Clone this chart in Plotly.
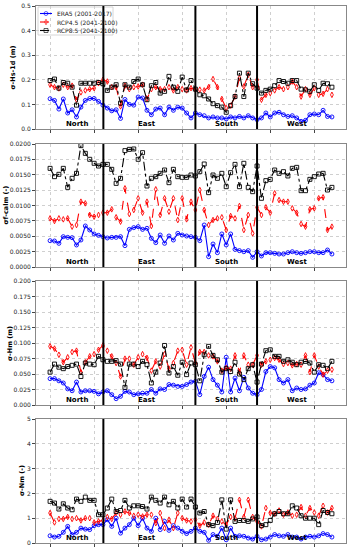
import plotly.graph_objects as go
from plotly.subplots import make_subplots

x_idx = list(range(65))

hs_era5 = [0.123,0.116,0.081,0.122,0.065,0.078,0.049,0.089,0.116,0.124,0.124,0.112,0.097,0.085,0.074,0.078,0.043,0.120,0.100,0.097,0.130,0.126,0.076,0.058,0.081,0.085,0.058,0.089,0.076,0.089,
           0.085,0.065,0.045,0.065,0.058,0.054,0.045,0.049,0.045,0.045,0.041,0.049,0.045,0.051,0.045,0.054,0.045,0.038,0.045,0.065,0.049,0.065,0.068,0.058,0.051,0.054,0.045,0.031,0.035,0.058,0.061,0.058,0.076,0.051,0.049]
hs_rcp45 = [0.180,0.170,0.165,0.180,0.170,0.176,0.119,0.149,0.157,0.162,0.166,0.186,0.200,0.193,0.170,0.170,0.092,0.176,0.162,0.170,0.173,0.180,0.122,0.162,0.170,0.162,0.162,0.170,0.157,0.170,
            0.162,0.157,0.166,0.160,0.160,0.157,0.170,0.203,0.170,0.122,0.085,0.095,0.132,0.207,0.173,0.220,0.170,0.200,0.119,0.139,0.146,0.157,0.170,0.162,0.170,0.193,0.170,0.132,0.162,0.139,0.166,0.139,0.143,0.162,0.139]
hs_rcp85 = [0.197,0.203,0.166,0.189,0.186,0.170,0.097,0.186,0.186,0.186,0.186,0.189,0.184,0.157,0.170,0.180,0.105,0.180,0.170,0.193,0.203,0.180,0.119,0.176,0.189,0.146,0.153,0.214,0.170,
            0.153,0.211,0.159,0.197,0.162,0.139,0.135,0.122,0.103,0.095,0.089,0.068,0.095,0.132,0.227,0.132,0.227,0.184,0.166,0.146,0.157,0.162,0.176,0.197,0.193,0.186,0.197,0.197,0.162,0.159,0.153,0.180,0.157,0.186,0.184,0.170]

fc_era5 = [0.00428,0.00423,0.00385,0.00493,0.00482,0.00477,0.00358,0.00439,0.00667,0.00602,0.00537,0.00515,0.00493,0.00472,0.00482,0.00482,0.00493,0.00347,0.00612,0.0064,0.00656,0.00612,0.00629,0.00466,0.00396,0.0052,0.00385,0.00504,0.00439,0.00547,
           0.0052,0.00504,0.00493,0.00482,0.00428,0.00683,0.00168,0.00374,0.00233,0.00537,0.00358,0.00537,0.00287,0.00266,0.00249,0.00266,0.00157,0.00249,0.00179,0.00233,0.00233,0.00222,0.00211,0.00211,0.00233,0.00249,0.00233,0.00222,0.00233,0.00249,0.00249,0.00233,0.00233,0.00276,0.00211]
fc_rcp45 = [0.00791,0.00748,0.00791,0.00775,0.00791,0.00656,0.00683,0.01062,0.01035,0.00846,0.00818,0.00846,0.00883,0.00883,0.00938,0.00808,0.00737,0.01279,0.00862,0.00927,0.01117,0.00883,0.01062,0.00667,0.01263,0.00846,0.01117,0.009,0.01117,0.00764,
            0.01117,0.00775,0.01062,0.00927,0.01252,0.00927,0.00683,0.00764,0.00791,0.00808,0.00602,0.00829,0.00791,0.00992,0.00602,0.00846,0.00547,0.0097,0.00846,0.0097,0.00883,0.01198,0.01089,0.01062,0.01062,0.00954,0.00883,0.00699,0.00656,0.00938,0.00954,0.01117,0.01133,0.00602,0.00656]
fc_rcp85 = [0.01604,0.01469,0.01507,0.01604,0.01295,0.01442,0.01523,0.01973,0.01848,0.01751,0.01686,0.01642,0.01669,0.01669,0.01588,0.0136,0.01442,0.01892,0.01913,0.01919,0.01751,0.01859,0.01317,0.01442,0.01469,0.01523,0.01577,0.01371,0.01588,0.01469,
            0.01458,0.01458,0.01496,0.0148,0.0155,0.01675,0.01209,0.01496,0.01442,0.01523,0.01306,0.01534,0.01669,0.01306,0.01686,0.01295,0.01225,0.01642,0.01117,0.01404,0.01425,0.01577,0.01523,0.0155,0.0148,0.01604,0.0162,0.01241,0.01241,0.01425,0.01469,0.01512,0.01523,0.01252,0.01295]

hm_era5 = [0.0425,0.0425,0.039,0.0355,0.026,0.023,0.037,0.021,0.023,0.023,0.022,0.018,0.021,0.023,0.0167,0.0102,0.014,0.022,0.021,0.0167,0.018,0.019,0.019,0.025,0.019,0.026,0.025,0.033,0.032,0.030,
           0.030,0.033,0.037,0.038,0.0167,0.046,0.061,0.041,0.032,0.021,0.077,0.021,0.0435,0.023,0.0446,0.0274,0.019,0.0167,0.025,0.054,0.062,0.060,0.041,0.0355,0.041,0.023,0.0274,0.025,0.026,0.032,0.0355,0.052,0.049,0.041,0.039]
hm_rcp45 = [0.0946,0.091,0.081,0.069,0.077,0.0855,0.0876,0.053,0.069,0.0785,0.082,0.089,0.096,0.0876,0.0785,0.0677,0.046,0.0747,0.0747,0.065,0.077,0.082,0.076,0.0554,0.0704,0.062,0.082,0.0586,0.0677,0.0876,
            0.089,0.065,0.093,0.0677,0.0855,0.0855,0.080,0.0785,0.0704,0.0554,0.0597,0.0586,0.080,0.053,0.080,0.065,0.065,0.080,0.065,0.0704,0.073,0.0758,0.073,0.066,0.0677,0.064,0.066,0.065,0.080,0.053,0.080,0.062,0.049,0.0554,0.057]
hm_rcp85 = [0.053,0.066,0.061,0.0586,0.062,0.064,0.066,0.046,0.0677,0.066,0.065,0.0785,0.073,0.0704,0.0704,0.0715,0.066,0.0285,0.066,0.066,0.062,0.0704,0.065,0.0355,0.053,0.0677,0.096,0.0516,0.062,0.048,
            0.069,0.049,0.0677,0.065,0.039,0.081,0.0946,0.080,0.073,0.053,0.0586,0.054,0.069,0.050,0.041,0.0586,0.065,0.037,0.066,0.0876,0.089,0.0785,0.0785,0.0704,0.073,0.069,0.065,0.069,0.0704,0.0677,0.053,0.065,0.064,0.0586,0.0704]

nm_era5 = [0.29,0.24,0.27,0.43,0.67,0.34,0.43,0.6,0.56,0.54,0.7,0.74,0.74,0.94,0.67,1.0,0.4,0.6,0.74,1.0,0.7,1.0,0.6,0.47,1.0,0.54,0.87,0.51,0.7,0.6,
           0.47,0.38,0.47,0.6,0.47,0.43,0.11,0.34,0.27,0.6,0.13,0.6,0.27,0.29,0.27,0.2,0.16,0.27,0.13,0.16,0.24,0.34,0.29,0.27,0.34,0.24,0.24,0.16,0.24,0.27,0.24,0.29,0.38,0.34,0.24]
nm_rcp45 = [1.21,0.83,0.97,0.97,1.05,0.97,1.0,0.91,1.0,1.0,0.83,0.87,0.91,1.05,0.97,1.21,1.14,1.27,1.21,1.1,1.14,1.07,1.14,1.14,0.8,1.21,0.6,0.94,0.6,1.21,
            1.0,0.91,0.87,0.94,0.7,0.83,0.74,1.1,0.97,0.87,0.74,1.05,1.0,1.74,1.05,1.74,1.05,0.87,0.67,1.41,1.21,1.18,1.31,1.14,1.23,1.1,1.14,1.45,1.1,1.41,1.23,1.1,1.5,1.23,1.41]
nm_rcp85 = [1.68,1.61,1.37,1.58,1.41,1.34,1.77,1.68,1.85,1.72,1.72,1.14,1.14,1.41,1.77,1.27,1.31,1.72,1.41,1.5,1.5,1.47,1.37,1.85,1.72,1.61,1.85,1.54,1.68,1.41,
            1.77,1.45,1.77,1.45,1.21,1.27,0.74,0.7,0.83,1.74,0.56,1.74,0.87,0.91,0.91,0.87,0.97,1.05,0.7,0.74,0.91,1.18,1.27,1.18,1.18,1.5,1.41,1.1,1.0,1.0,1.0,0.74,1.31,1.23,1.18]

series_names = ["ERA5 (2001-2017)", "RCP4.5 (2041-2100)", "RCP8.5 (2041-2100)"]
panel_titles = ["σ-Hs-1d (m)", "σf-calm (-)", "σ-Hm (m)", "σ-Nm (-)"]
region_names = ["North", "East", "South", "West"]
region_pos = [6, 22, 40, 56]
boundaries = [12.1, 33.0, 47.0]

panels = [
    (hs_era5, hs_rcp45, hs_rcp85),
    (fc_era5, fc_rcp45, fc_rcp85),
    (hm_era5, hm_rcp45, hm_rcp85),
    (nm_era5, nm_rcp45, nm_rcp85),
]
y_ranges = [(0, 0.5), (0, 0.02), (0, 0.2), (0, 5)]
y_dticks = [0.1, 0.0025, 0.025, 1]
y_formats = [".1f", ".4f", ".3f", "d"]
title_xpx = [12, 6, 10, 22]

styles = [
    dict(color="#0000ff", dash="solid", symbol="circle-open"),
    dict(color="#ff0000", dash="dash", symbol="diamond-tall-open"),
    dict(color="#000000", dash="dashdot", symbol="square-open"),
]

W, H = 351, 550
ml, mr, mt, mb = 36, 5, 6, 7
pw = W - ml - mr
ph = H - mt - mb
panel_px = [(6, 129), (144, 267), (281, 405), (419, 543)]

fig = make_subplots(rows=4, cols=1)

for r, data in enumerate(panels):
    for s, vals in enumerate(data):
        st = styles[s]
        fig.add_trace(go.Scatter(
            x=x_idx, y=vals, mode="lines+markers",
            name=series_names[s], showlegend=False,
            line=dict(color=st["color"], dash=st["dash"], width=1.1),
            marker=dict(symbol=st["symbol"], size=4, color=st["color"],
                        line=dict(width=0.9, color=st["color"])),
        ), row=r + 1, col=1)

annotations = []
shapes = []
for r in range(4):
    top, bot = panel_px[r]
    d0 = (H - mb - bot) / ph
    d1 = (H - mb - top) / ph
    ax = "" if r == 0 else str(r + 1)
    fig.layout["yaxis" + ax].update(
        domain=[d0, d1], range=list(y_ranges[r]), dtick=y_dticks[r], tick0=0,
        tickformat=y_formats[r], showgrid=True, gridcolor="#cfcfcf", griddash="dot",
        gridwidth=0.8, zeroline=False, showline=True, linecolor="#888888", linewidth=1,
        mirror=True, ticks="outside", ticklen=3, tickcolor="#444", tickwidth=0.8,
        tickfont=dict(size=6, color="#222", family="DejaVu Sans"), automargin=False,
    )
    fig.layout["xaxis" + ax].update(
        range=[-3.2, 67.2], tickvals=[0, 10, 20, 30, 40, 50, 60], showticklabels=False,
        showgrid=True, gridcolor="#cfcfcf", griddash="dot", gridwidth=0.8, zeroline=False,
        showline=True, linecolor="#888888", linewidth=1, mirror=True,
        ticks="outside", ticklen=3, tickcolor="#444", tickwidth=0.8, automargin=False,
    )
    xref = "x" + ax
    for b in boundaries:
        shapes.append(dict(type="line", xref=xref, yref="y" + ax + " domain",
                           x0=b, x1=b, y0=0, y1=1, layer="above",
                           line=dict(color="black", width=2)))
    for name, pos in zip(region_names, region_pos):
        annotations.append(dict(text="<b>" + name + "</b>", x=pos, xref=xref,
                                y=0.04, yref="y" + ax + " domain", showarrow=False,
                                xanchor="center", yanchor="middle",
                                font=dict(size=7, color="black", family="DejaVu Sans")))
    annotations.append(dict(text="<b>" + panel_titles[r] + "</b>",
                            x=(title_xpx[r] - ml) / pw, xref="paper",
                            y=(d0 + d1) / 2, yref="paper", textangle=-90,
                            showarrow=False, xanchor="center", yanchor="middle",
                            font=dict(size=6.5, color="black", family="DejaVu Sans")))

# compact custom legend (matplotlib-style) drawn on its own small axis
lg_x0, lg_x1, lg_y0, lg_y1 = 38, 113, 7, 35  # legend box in pixels
fig.update_layout(
    xaxis5=dict(domain=[(lg_x0 - ml) / pw, (lg_x1 - ml) / pw], range=[lg_x0, lg_x1],
                visible=False, anchor="y5", fixedrange=True),
    yaxis5=dict(domain=[(H - mb - lg_y1) / ph, (H - mb - lg_y0) / ph], range=[lg_y1, lg_y0],
                visible=False, anchor="x5", fixedrange=True),
)
shapes.append(dict(type="rect", xref="paper", yref="paper",
                   x0=(lg_x0 - ml) / pw, x1=(lg_x1 - ml) / pw,
                   y0=(H - mb - lg_y1) / ph, y1=(H - mb - lg_y0) / ph,
                   fillcolor="rgba(255,255,255,0.85)", line=dict(color="#cccccc", width=0.8),
                   layer="between"))
legend_rows = [13.5, 22, 30.5]
for s, name in enumerate(series_names):
    st = styles[s]
    yy = legend_rows[s]
    fig.add_trace(go.Scatter(
        x=[40, 46, 52], y=[yy, yy, yy], mode="lines+markers", xaxis="x5", yaxis="y5",
        showlegend=False, hoverinfo="skip",
        line=dict(color=st["color"], dash=st["dash"], width=1.1),
        marker=dict(symbol=st["symbol"], size=[0, 4, 0], color=st["color"],
                    line=dict(width=0.9, color=st["color"])),
    ))
    annotations.append(dict(text=name, x=55, y=yy, xref="x5", yref="y5", showarrow=False,
                            xanchor="left", yanchor="middle",
                            font=dict(size=6, color="#222", family="DejaVu Sans")))

fig.update_layout(
    width=W, height=H, margin=dict(l=ml, r=mr, t=mt, b=mb),
    paper_bgcolor="white", plot_bgcolor="rgba(0,0,0,0)",
    font=dict(family="DejaVu Sans", size=6.5, color="#222"),
    shapes=shapes, annotations=annotations, showlegend=False,
)

fig.write_html("out.html", config={"displayModeBar": False},
               post_script="document.body.style.margin='0px';")
